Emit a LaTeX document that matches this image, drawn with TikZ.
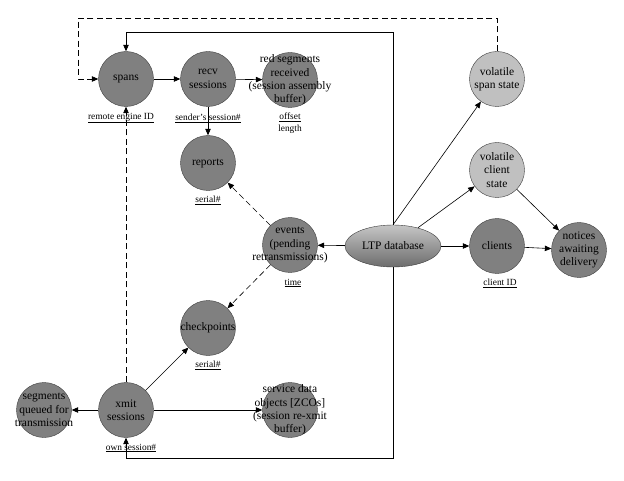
\documentclass[tikz,border=0pt]{standalone}
\usepackage{fontspec}
\setmainfont{Liberation Serif}
\usetikzlibrary{arrows.meta, shapes.geometric, positioning}
\definecolor{nodedark}{RGB}{128, 128, 128}
\definecolor{nodelight}{RGB}{192, 192, 192}
\definecolor{rimgray}{RGB}{60, 60, 60}

\begin{document}
\begin{tikzpicture}[x=1pt, y=-1pt,
  blob/.style={circle, draw=rimgray, minimum size=55pt, inner sep=0pt},
  dark/.style={blob, fill=nodedark},
  light/.style={blob, fill=nodelight},
  every label/.style={font=\fontsize{11.5}{13.4}\selectfont, align=center, inner sep=0pt},
  tag/.style={font=\fontsize{9.4}{11.5}\selectfont, align=center, inner sep=1pt},
  link/.style={-{Triangle[length=6.5pt, width=5.5pt]}, line width=0.6pt},
  dashlink/.style={link, dash pattern=on 6pt off 3.5pt}]
  \useasboundingbox (0,0) rectangle (624,481);

  % Receiving side
  \node[dark, label=center:spans] (spans) at (126,79) {};
  \node[dark, label=center:{recv\\sessions}] (recv) at (208,79) {};
  \node[dark, label=center:{red segments\\received\\(session assembly\\buffer)}] (redseg) at (290,80) {};
  \node[dark, label=center:reports] (reports) at (208,163) {};
  \node[dark, label=center:{events\\(pending\\retransmissions)}] (events) at (290,245) {};

  % Transmitting side
  \node[dark, label=center:checkpoints] (ckpts) at (208,328) {};
  \node[dark, label=center:{segments\\queued for\\transmission}] (segq) at (44,410) {};
  \node[dark, label=center:{xmit\\sessions}] (xmit) at (126,410) {};
  \node[dark, label=center:{service data\\objects [ZCOs]\\(session re-xmit\\buffer)}] (sdo) at (290,410) {};

  % Database and volatile state
  \node[ellipse, draw=rimgray, top color=gray!45, bottom color=gray!85!black, minimum width=96pt, minimum height=42pt, inner sep=0pt, font=\fontsize{11.5}{13.4}\selectfont] (db) at (393,246) {LTP database};
  \node[light, label=center:{volatile\\span state}] (vspan) at (497,79) {};
  \node[light, label=center:{volatile\\client\\state}] (vclient) at (497,170) {};
  \node[dark, label=center:clients] (clients) at (497,246) {};
  \node[dark, label=center:{notices\\awaiting\\delivery}] (notices) at (579,250) {};

  % Keys
  \node[tag] (spanskey) at (121,118) {\underline{remote engine ID}};
  \node[tag] (recvkey) at (208,118) {\underline{sender’s session\#}};
  \node[tag] (redkey) at (290,123) {\underline{offset}\\length};
  \node[tag] (reportskey) at (208,200) {\underline{serial\#}};
  \node[tag] (eventskey) at (293,283) {\underline{time}};
  \node[tag] (ckptskey) at (208,365) {\underline{serial\#}};
  \node[tag] (xmitkey) at (131,448) {\underline{own session\#}};
  \node[tag] (clientskey) at (500,283) {\underline{client ID}};

  % Bends
  \coordinate (trunktop) at (393,32);
  \coordinate (trunkbot) at (393,458);
  \coordinate (loopright) at (497,18);
  \coordinate (loopleft) at (78,18);

  \draw[link] (db) -- (trunktop) -| (spans);
  \draw[link] (db) -- (trunkbot) -| (xmit);
  \draw[dashlink] (vspan) -- (loopright) -- (loopleft) |- (spans);
  \draw[dashlink] (xmit) -- (spans);

  \draw[link] (spans) -- (recv);
  \draw[link] (recv) -- (redseg);
  \draw[link] (recv) -- (reports);
  \draw[dashlink] (events) -- (reports);
  \draw[dashlink] (events) -- (ckpts);

  \draw[link] (db) -- (events);
  \draw[link] (db.north) -- (vspan);
  \draw[link] (db) -- (vclient);
  \draw[link] (db) -- (clients);
  \draw[link] (vclient) -- (notices);
  \draw[link] (clients) -- (notices);

  \draw[link] (xmit) -- (ckpts);
  \draw[link] (xmit) -- (segq);
  \draw[link] (xmit) -- (sdo);
\end{tikzpicture}
\end{document}
